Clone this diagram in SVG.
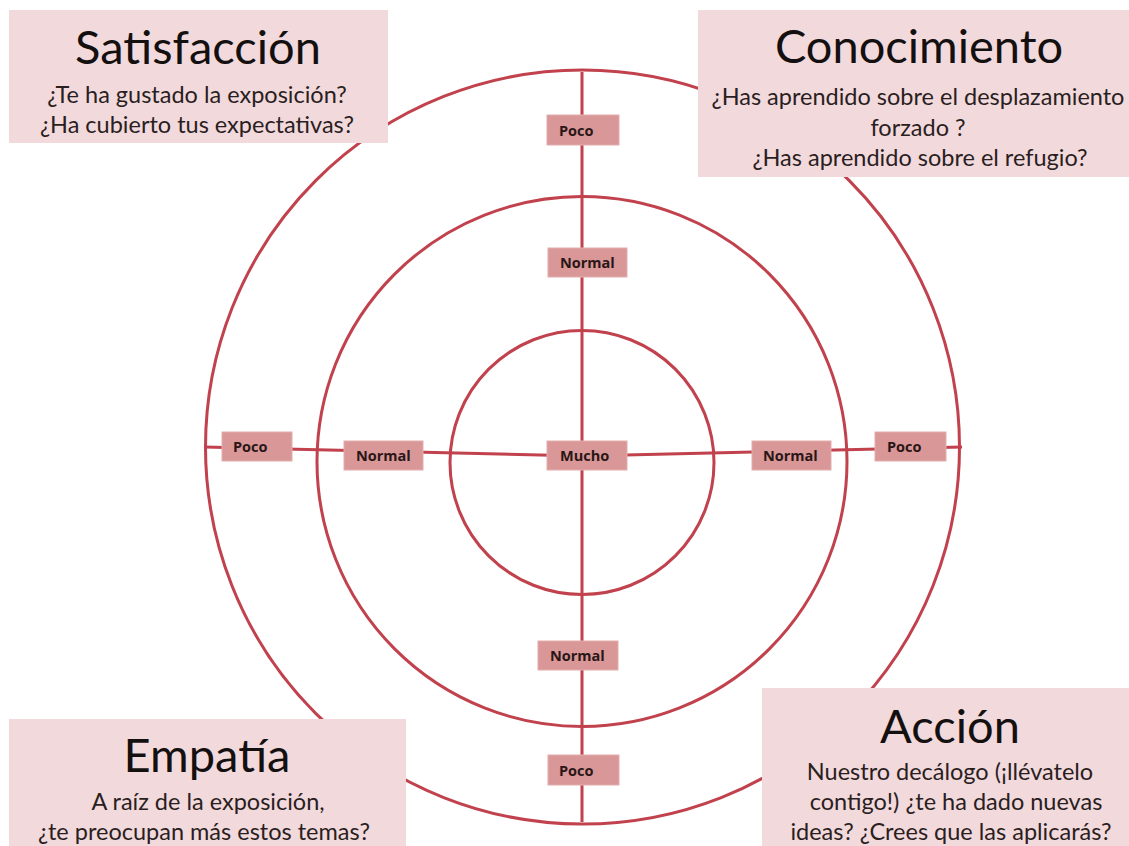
<svg xmlns="http://www.w3.org/2000/svg" width="1129" height="846" viewBox="0 0 1129 846">
<style>
.ring{fill:none;stroke:#c1414d;stroke-width:3}
.axis{fill:none;stroke:#c1414d;stroke-width:3}
.lbl{fill:#d99797;stroke:#e4adad;stroke-width:1}
.lt{font-family:"Open Sans","DejaVu Sans",sans-serif;font-weight:700;font-size:14.5px;fill:#2a1616}
.card{fill:#f2d9dc}
.title{font-family:Lato,"Liberation Sans",sans-serif;font-size:47px;fill:#141010;text-anchor:middle}
.sub{font-family:Lato,"Liberation Sans",sans-serif;font-size:23.5px;fill:#2a1e1e;text-anchor:middle}
</style>
<rect width="1129" height="846" fill="#ffffff"/>
<g id="rings">
<circle class="ring" cx="582.5" cy="447" r="377"/>
<circle class="ring" cx="582" cy="461.5" r="265"/>
<circle class="ring" cx="582" cy="462.5" r="132"/>
</g>
<g id="connectors">
<line class="axis" x1="582" y1="72" x2="582" y2="822"/>
<polyline class="axis" points="205,447 583,456 962,447"/>
</g>
<g id="label-poco-top"><rect class="lbl" x="547" y="115" width="72" height="30"/><text class="lt" x="559" y="136">Poco</text></g>
<g id="label-normal-top"><rect class="lbl" x="548" y="248" width="79" height="29"/><text class="lt" x="560" y="268">Normal</text></g>
<g id="label-mucho"><rect class="lbl" x="547" y="441" width="80" height="29"/><text class="lt" x="560" y="461">Mucho</text></g>
<g id="label-poco-left"><rect class="lbl" x="222" y="432" width="70" height="29"/><text class="lt" x="233" y="452">Poco</text></g>
<g id="label-normal-left"><rect class="lbl" x="344" y="441" width="79" height="29"/><text class="lt" x="356" y="461">Normal</text></g>
<g id="label-normal-right"><rect class="lbl" x="752" y="441" width="79" height="29"/><text class="lt" x="763" y="461">Normal</text></g>
<g id="label-poco-right"><rect class="lbl" x="875" y="432" width="71" height="29"/><text class="lt" x="887" y="452">Poco</text></g>
<g id="label-normal-bottom"><rect class="lbl" x="538" y="641" width="80" height="29"/><text class="lt" x="550" y="661">Normal</text></g>
<g id="label-poco-bottom"><rect class="lbl" x="548" y="755" width="71" height="30"/><text class="lt" x="559" y="776">Poco</text></g>
<g id="card-satisfaccion">
<rect class="card" x="9" y="10" width="379" height="133"/>
<text class="title" x="198" y="64">Satisfacción</text>
<text class="sub" x="197" y="103">¿Te ha gustado la exposición?</text>
<text class="sub" x="197" y="133">¿Ha cubierto tus expectativas?</text>
</g>
<g id="card-conocimiento">
<rect class="card" x="698" y="10" width="431" height="167"/>
<text class="title" x="919" y="63">Conocimiento</text>
<text class="sub" x="918" y="105">¿Has aprendido sobre el desplazamiento</text>
<text class="sub" x="918" y="136">forzado ?</text>
<text class="sub" x="920" y="166">¿Has aprendido sobre el refugio?</text>
</g>
<g id="card-empatia">
<rect class="card" x="9" y="719" width="397" height="127"/>
<text class="title" x="207" y="772">Empatía</text>
<text class="sub" x="208" y="810">A raíz de la exposición,</text>
<text class="sub" x="204" y="840">¿te preocupan más estos temas?</text>
</g>
<g id="card-accion">
<rect class="card" x="762" y="688" width="367" height="158"/>
<text class="title" x="950" y="743">Acción</text>
<text class="sub" x="950" y="780">Nuestro decálogo (¡llévatelo</text>
<text class="sub" x="956" y="810">contigo!) ¿te ha dado nuevas</text>
<text class="sub" x="951" y="840">ideas? ¿Crees que las aplicarás?</text>
</g>
</svg>
